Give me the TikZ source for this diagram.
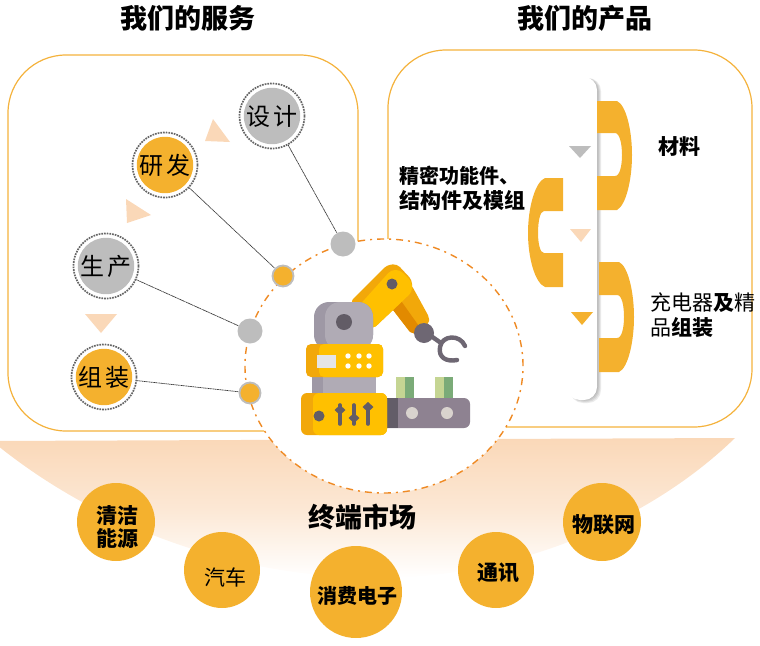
\documentclass[tikz,border=0pt]{standalone}
\usepackage{fontspec}
\setmainfont{Noto Sans CJK SC}
\usetikzlibrary{shapes.geometric}
\definecolor{amber}{HTML}{F4B12E}
\definecolor{boxline}{HTML}{F4B23C}
\definecolor{peach}{HTML}{FAD8B8}
\definecolor{ashgray}{HTML}{BDBDBD}
\definecolor{dashorange}{HTML}{EF8A24}
\definecolor{robyellow}{HTML}{FFC000}
\definecolor{robdeep}{HTML}{F2A80A}
\definecolor{robburn}{HTML}{E28A00}
\definecolor{robgray}{HTML}{B0ABB5}
\definecolor{robshade}{HTML}{9E98A5}
\definecolor{robdark}{HTML}{625C66}
\definecolor{robclaw}{HTML}{6E6773}
\definecolor{beltgray}{HTML}{8E8291}
\definecolor{roller}{HTML}{D9D3CE}
\definecolor{goodlight}{HTML}{C5D593}
\definecolor{gooddark}{HTML}{7BAB78}
\newcommand{\fs}[1]{\fontsize{#1}{#1}\selectfont}

\begin{document}
\begin{tikzpicture}[x=1pt,y=-1pt,
  ring/.style={circle,draw=black!60,densely dotted,line width=1.7pt,minimum size=65pt,inner sep=0pt},
  disc/.style={circle,minimum size=56pt,inner sep=0pt,font=\fs{24}},
  port/.style={circle,inner sep=0pt,minimum size=#1},
  link/.style={dash pattern=on 1.2pt off 0.5pt,line width=0.7pt,black!80},
  pointer/.style={fill=peach},
  market/.style={circle,fill=amber,inner sep=0pt,font=\fs{21}\bfseries,align=center},
  title/.style={font=\fs{27}\bfseries,inner sep=0pt},
  label/.style={font=\fs{21},inner sep=0pt,align=left},
]
\useasboundingbox (0,0) rectangle (760,645);

% Frames
\draw[boxline,line width=1.2pt,rounded corners=58pt] (8,55) rectangle (358,431);
\draw[boxline,line width=1.2pt,rounded corners=58pt] (388,50) rectangle (752,427);

% Fan
\shade[top color=peach,bottom color=white,middle color=peach!60]
  (735,438) .. controls (640,530) and (500,578) .. (380,578)
  .. controls (240,578) and (100,530) .. (-8,441) -- cycle;

% Hub
\node[ellipse,fill=white,draw=dashorange,line width=1.4pt,dash pattern=on 7pt off 5pt on 2pt off 5pt,
  minimum width=278pt,minimum height=254pt,inner sep=0pt] (hub) at (384,366) {};

% Service discs
\foreach \name/\x/\y/\col/\txt in {design/272/116/ashgray/设\,计,
    research/165/165/amber/研\,发,
    produce/106/266/ashgray/生\,产,
    assemble/104/377/amber/组\,装} {
  \node[ring] (\name) at (\x,\y) {};
  \node[disc,fill=\col] at (\x,\y) {\txt};
}

% Ports
\node[port=25pt,fill=ashgray] (p1) at (343,244) {};
\node[port=21pt,fill=amber,draw=ashgray,line width=1.8pt] (p2) at (283,276) {};
\node[port=25pt,fill=ashgray] (p3) at (250,331) {};
\node[port=21pt,fill=amber,draw=ashgray,line width=1.8pt] (p4) at (250,393) {};
\draw[link] (design) -- (p1);
\draw[link] (research) -- (p2);
\draw[link] (produce) -- (p3);
\draw[link] (assemble) -- (p4);

% Pointers
\fill[pointer] (205,141) -- (213,119) -- (230,142) -- cycle;
\fill[pointer] (126,199) -- (151,215) -- (127,223) -- cycle;
\fill[pointer] (85,314) -- (117,314) -- (101,333) -- cycle;

% Robot arm
\fill[robdeep,rounded corners=2pt] (390,306) -- (412,286) -- (429,317) -- (429,323) -- (416,334) -- (410,332) -- cycle;
\fill[robburn] (390,306) -- (399,298) -- (421,329) -- (416,334) -- (410,332) -- cycle;
\fill[robdeep,rounded corners=4pt] (350,302) -- (387,265) -- (397,264) -- (412,280) -- (412,292) -- (373,329) -- (360,305) -- cycle;
\fill[robyellow,rounded corners=4pt] (356,309) -- (391,270) -- (400,270) -- (412,282) -- (412,292) -- (373,329) -- cycle;
\fill[robdark] (392,284) circle (5.5);
% Gripper
\fill[robclaw] (424,333) circle (10);
\draw[robclaw,line width=4.4pt,line cap=round] (431,336) -- (441,343);
\draw[robclaw,line width=4.4pt,line cap=round] (465,346) .. controls (460,334) and (442,335) .. (440,347)
  .. controls (438,358) and (447,362) .. (457,360);

% Belt and goods
\fill[beltgray,rounded corners=6pt] (380,398) rectangle (470,428);
\fill[robclaw!90!black] (384,398) rectangle (398,428);
\foreach \x in {396,435} {
  \fill[goodlight] (\x,377) rectangle (\x+9,398);
  \fill[gooddark] (\x+9,377) rectangle (\x+18,398);
}
\foreach \x in {412,447} {
  \fill[roller] (\x,413) circle (6);
}

% Robot body
\fill[robshade] (312,375) rectangle (376,395);
\fill[robgray] (323,375) rectangle (376,395);
\fill[robshade,rounded corners=15pt] (314,350) -- (314,302) -- (373,302) -- (373,350) -- cycle;
\fill[robgray,rounded corners=15pt] (325,350) -- (325,302) -- (373,302) -- (373,350) -- cycle;
\fill[robdark] (344,322) circle (8);
\fill[robdeep,rounded corners=5pt] (306,344) rectangle (383,377);
\fill[robyellow,rounded corners=5pt] (319,344) rectangle (383,377);
\fill[white!90!black] (317,355) rectangle (336,368);
\foreach \x in {348,359,369} {
  \foreach \y in {356,366} {
    \fill[white] (\x,\y) circle (2.7);
  }
}
\fill[robdeep,rounded corners=6pt] (301,393) rectangle (387,435);
\fill[robyellow,rounded corners=6pt] (313,393) rectangle (387,435);
\fill[robdark] (319,416) circle (5.5);
\foreach \x/\k in {340/410,354/418,368/407} {
  \draw[robdark,line width=3.6pt,line cap=round] (\x,405) -- (\x,424);
  \fill[robdark] (\x-5.5,\k) -- (\x,\k-5) -- (\x+5.5,\k) -- (\x,\k+5) -- cycle;
}

% Product bar
\foreach \o in {1,...,5} {
  \fill[black,opacity=0.08,rounded corners=13pt] (570,78) rectangle (596+\o,398+\o);
}
\node[rectangle,rounded corners=13pt,fill=white,minimum width=30pt,minimum height=323pt,inner sep=0pt] (bar) at (582,238.5) {};

% Clips
\fill[amber] (597,101) -- (617,101) .. controls (626,105) and (632,130) .. (632,155)
  .. controls (632,180) and (626,205) .. (617,210) -- (597,210) -- (597,176) -- (615,176)
  .. controls (620,176) and (622,165) .. (622,155) .. controls (622,145) and (620,133) .. (615,133) -- (597,133) -- cycle;
\fill[amber] (599,262) -- (619,262) .. controls (628,266) and (634,292) .. (634,317)
  .. controls (634,342) and (628,368) .. (619,372) -- (599,372) -- (599,338) -- (617,338)
  .. controls (622,338) and (624,327) .. (624,317) .. controls (624,306) and (622,295) .. (617,295) -- (599,295) -- cycle;
\fill[amber] (563,178) -- (545,178) .. controls (535,182) and (528,208) .. (528,233)
  .. controls (528,258) and (535,283) .. (545,287) -- (563,287) -- (563,253) -- (544,253)
  .. controls (540,253) and (538,243) .. (538,233) .. controls (538,222) and (540,211) .. (544,211) -- (563,211) -- cycle;

% Bar marks
\fill[ashgray] (569,146) -- (591,146) -- (580,158) -- cycle;
\fill[peach] (570,229) -- (591,229) -- (581,242) -- cycle;
\fill[amber] (571,312) -- (593,312) -- (582,325) -- cycle;

% Titles and labels
\node[title] (t1) at (188,18) {我们的服务};
\node[title] (t2) at (585,18) {我们的产品};
\node[label,font=\fs{21}\bfseries] (l1) at (679,147) {材料};
\node[label,font=\bfseries,anchor=west] (l2) at (399,188) {{\fs{20}精密功能件、}\\[4pt]{\fs{21}结构件及模组}};
\node[label,anchor=west] (l3) at (650,315) {充电器\textbf{及}精\\[4pt]品\textbf{组装}};

% Markets
\node[market,minimum size=78pt] (m1) at (116,522) {};
\node[market,minimum size=76pt] (m2) at (222,570) {};
\node[market,minimum size=92pt] (m3) at (356,592) {};
\node[market,minimum size=76pt] (m4) at (496,570) {};
\node[market,minimum size=78pt] (m5) at (602,522) {};
\node[font=\fs{21}\bfseries,align=center,inner sep=0pt] at (117,527) {清洁\\[2pt]能源};
\node[font=\fs{21},inner sep=0pt] at (225,577) {汽车};
\node[font=\fs{20}\bfseries,inner sep=0pt] at (357,596) {消费电子};
\node[font=\fs{21}\bfseries,inner sep=0pt] at (498,573) {通讯};
\node[font=\fs{21}\bfseries,inner sep=0pt] at (604,525) {物联网};
\node[title] at (362,517) {终端市场};
\end{tikzpicture}
\end{document}
